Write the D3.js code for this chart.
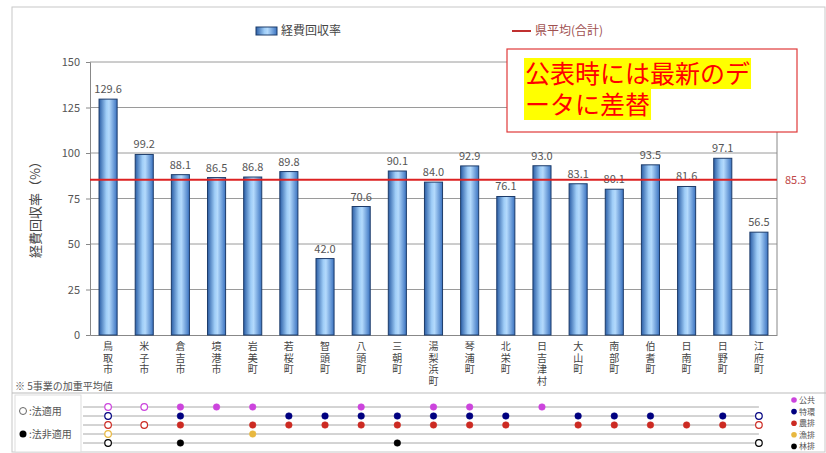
<!DOCTYPE html>
<html>
<head>
<meta charset="utf-8">
<script src="https://cdn.jsdelivr.net/npm/d3@7"></script>
<style>
  body { margin: 0; background: #fff; }
  svg { font-family: "Noto Sans CJK JP", "Noto Sans", sans-serif; }
</style>
</head>
<body>
<div id="chart"></div>
<script>
// Data
var towns = ["鳥取市", "米子市", "倉吉市", "境港市", "岩美町", "若桜町", "智頭町", "八頭町", "三朝町", "湯梨浜町",
  "琴浦町", "北栄町", "日吉津村", "大山町", "南部町", "伯耆町", "日南町", "日野町", "江府町"];
var recoveryRate = [129.6, 99.2, 88.1, 86.5, 86.8, 89.8, 42.0, 70.6, 90.1, 84.0,
  92.9, 76.1, 93.0, 83.1, 80.1, 93.5, 81.6, 97.1, 56.5];
var prefAverage = 85.3;
var yTicks = [0, 25, 50, 75, 100, 125, 150];

// o = 法適用, f = 法非適用, - = なし (one char per town)
var businessNames = ["公共", "特環", "農排", "漁排", "林排"];
var businessDots = [
  "oofff--f-ff-f------",
  "o-f--fffffff-fff-fo",
  "oof-ffffffff-fffffo",
  "o---f--------------",
  "o-f-----f---------o"
];
var businessColors = ["#cc44dd", "#000080", "#cc2a22", "#e8b840", "#000000"];

var svgWidth = 826;
var svgHeight = 453;
var plot = { left: 90, right: 777, top: 62, bottom: 335 };

var svg = d3.select("#chart")
  .append("svg")
  .attr("width", svgWidth)
  .attr("height", svgHeight);

// bar gradient
var defs = svg.append("defs");
var grad = defs.append("linearGradient")
  .attr("id", "barGrad")
  .attr("x1", "0%").attr("x2", "100%").attr("y1", "0%").attr("y2", "0%");
grad.append("stop").attr("offset", "0%").attr("stop-color", "#2b5ea6");
grad.append("stop").attr("offset", "40%").attr("stop-color", "#9fcdf7");
grad.append("stop").attr("offset", "55%").attr("stop-color", "#b4dafc");
grad.append("stop").attr("offset", "100%").attr("stop-color", "#3a72c0");

// outer frame
svg.append("rect")
  .attr("x", 12).attr("y", 7)
  .attr("width", 813).attr("height", 445)
  .attr("fill", "none")
  .attr("stroke", "#c8c8c8");

// scales
var xScale = d3.scaleBand()
  .domain(towns)
  .range([plot.left, plot.right])
  .paddingInner(0.5)
  .paddingOuter(0.25);

var yScale = d3.scaleLinear()
  .domain([0, 150])
  .range([plot.bottom, plot.top]);

// gridlines
svg.append("g")
  .selectAll("line")
  .data(yTicks.filter(d => d > 0))
  .enter()
  .append("line")
  .attr("x1", plot.left).attr("x2", plot.right)
  .attr("y1", d => yScale(d)).attr("y2", d => yScale(d))
  .attr("stroke", "#9a9a9a")
  .attr("stroke-width", 1);

// axes
var leftAxis = d3.axisLeft(yScale).tickValues(yTicks).tickSize(4).tickPadding(6);
var yAxisG = svg.append("g")
  .attr("transform", `translate(${plot.left}, 0)`)
  .call(leftAxis);
yAxisG.select(".domain").attr("stroke", "#888");
yAxisG.selectAll(".tick line").attr("stroke", "#888");
yAxisG.selectAll("text")
  .attr("fill", "#555")
  .attr("font-size", "11px")
  .attr("font-family", "Noto Sans CJK JP");

var bottomAxis = d3.axisBottom(xScale).tickSize(0).tickFormat("");
svg.append("g")
  .attr("transform", `translate(0, ${plot.bottom})`)
  .call(bottomAxis)
  .select(".domain").attr("stroke", "#888");

// right border of plot
svg.append("line")
  .attr("x1", plot.right).attr("x2", plot.right)
  .attr("y1", plot.top).attr("y2", plot.bottom)
  .attr("stroke", "#888");

// bars
svg.append("g")
  .selectAll("rect")
  .data(recoveryRate)
  .enter()
  .append("rect")
  .attr("x", (d, i) => xScale(towns[i]))
  .attr("y", d => yScale(d))
  .attr("width", xScale.bandwidth())
  .attr("height", d => yScale(0) - yScale(d))
  .attr("fill", "url(#barGrad)")
  .attr("stroke", "#1d3c6a")
  .attr("stroke-width", 1);

// value labels
svg.append("g")
  .selectAll("text")
  .data(recoveryRate)
  .enter()
  .append("text")
  .attr("x", (d, i) => xScale(towns[i]) + xScale.bandwidth() / 2)
  .attr("y", d => yScale(d) - 6)
  .attr("text-anchor", "middle")
  .attr("font-size", "11px")
  .attr("fill", "#555")
  .text(d => d.toFixed(1));

// prefecture average line
svg.append("line")
  .attr("x1", plot.left).attr("x2", plot.right)
  .attr("y1", yScale(prefAverage)).attr("y2", yScale(prefAverage))
  .attr("stroke", "#dd2222")
  .attr("stroke-width", 2);
svg.append("text")
  .attr("x", plot.right + 8)
  .attr("y", yScale(prefAverage) + 4)
  .attr("font-size", "11px")
  .attr("fill", "#c04848")
  .text(prefAverage.toFixed(1));

// x labels, one char per line
var xLabelG = svg.append("g");
towns.forEach(d => {
  var cx = xScale(d) + xScale.bandwidth() / 2;
  xLabelG.append("text")
    .attr("text-anchor", "middle")
    .attr("font-size", "10px")
    .attr("fill", "#444")
    .selectAll("tspan")
    .data(d.split(""))
    .enter()
    .append("tspan")
    .attr("x", cx)
    .attr("y", (ch, k) => 350 + k * 11.5)
    .text(ch => ch);
});

// y axis title
svg.append("text")
  .attr("transform", `translate(40, ${(plot.top + plot.bottom) / 2 + 8}) rotate(-90)`)
  .attr("text-anchor", "middle")
  .attr("font-size", "13px")
  .attr("fill", "#444")
  .text("経費回収率（%）");

// legend
svg.append("rect")
  .attr("x", 256).attr("y", 27)
  .attr("width", 21).attr("height", 8)
  .attr("fill", "url(#barGrad)")
  .attr("stroke", "#1d3c6a");
svg.append("text")
  .attr("x", 281).attr("y", 35)
  .attr("font-size", "12px")
  .attr("fill", "#444")
  .text("経費回収率");
svg.append("line")
  .attr("x1", 512).attr("x2", 531)
  .attr("y1", 31).attr("y2", 31)
  .attr("stroke", "#c03030")
  .attr("stroke-width", 2);
svg.append("text")
  .attr("x", 535).attr("y", 35)
  .attr("font-size", "12px")
  .attr("fill", "#a05050")
  .text("県平均(合計)");

// note box
svg.append("rect")
  .attr("x", 507).attr("y", 49)
  .attr("width", 290).attr("height", 83)
  .attr("fill", "#fff")
  .attr("stroke", "#e03a3a")
  .attr("stroke-width", 1.2);
var noteLines = ["公表時には最新のデ", "ータに差替"];
var noteG = svg.append("g");
noteLines.forEach((line, k) => {
  var bg = noteG.append("rect").attr("fill", "#ffff00");
  var tx = noteG.append("text")
    .attr("x", 525)
    .attr("y", 83 + k * 31)
    .attr("font-size", "25px")
    .attr("fill", "#ff0000")
    .text(line);
  var w = tx.node().getComputedTextLength();
  bg.attr("x", 524).attr("y", 58 + k * 31).attr("width", w + 2).attr("height", 31);
});

// lower matrix
svg.append("text")
  .attr("x", 15).attr("y", 390)
  .attr("font-size", "10px")
  .attr("fill", "#555")
  .text("※ 5事業の加重平均値");
svg.append("line")
  .attr("x1", 12).attr("x2", 826)
  .attr("y1", 393).attr("y2", 393)
  .attr("stroke", "#bbb");
svg.append("rect")
  .attr("x", 15).attr("y", 395)
  .attr("width", 66).attr("height", 57)
  .attr("fill", "#fff")
  .attr("stroke", "#ddd");
svg.append("circle").attr("cx", 23).attr("cy", 411).attr("r", 3.5)
  .attr("fill", "#fff").attr("stroke", "#666");
svg.append("text").attr("x", 29).attr("y", 415)
  .attr("font-size", "10px").attr("fill", "#555").text(":法適用");
svg.append("circle").attr("cx", 23).attr("cy", 434).attr("r", 3.5)
  .attr("fill", "#000");
svg.append("text").attr("x", 29).attr("y", 438)
  .attr("font-size", "10px").attr("fill", "#555").text(":法非適用");

var rowY = d3.scalePoint()
  .domain(businessNames)
  .range([407, 443]);

var rows = svg.append("g")
  .selectAll("g")
  .data(businessNames)
  .enter()
  .append("g");
rows.append("line")
  .attr("x1", 83).attr("x2", xScale(towns[towns.length - 1]) + xScale.bandwidth() / 2)
  .attr("y1", d => rowY(d)).attr("y2", d => rowY(d))
  .attr("stroke", "#a8a8a8");
rows.each(function(name, r) {
  var cells = businessDots[r].split("").map((c, i) => ({ c: c, town: towns[i] }))
    .filter(d => d.c === "o" || d.c === "f");
  d3.select(this).selectAll("circle")
    .data(cells)
    .enter()
    .append("circle")
    .attr("cx", d => xScale(d.town) + xScale.bandwidth() / 2)
    .attr("cy", rowY(name))
    .attr("r", 3.3)
    .attr("fill", d => d.c === "f" ? businessColors[r] : "#fff")
    .attr("stroke", businessColors[r])
    .attr("stroke-width", d => d.c === "o" ? 1.2 : 0.5);
});

// right legend
var legendRows = svg.append("g")
  .selectAll("g")
  .data(businessNames)
  .enter()
  .append("g")
  .attr("transform", (d, i) => `translate(794, ${400 + i * 11.6})`);
legendRows.append("circle")
  .attr("cx", 0).attr("cy", 0).attr("r", 2.8)
  .attr("fill", (d, i) => businessColors[i]);
legendRows.append("text")
  .attr("x", 5).attr("y", 3)
  .attr("font-size", "8px")
  .attr("fill", "#555")
  .text(d => d);
</script>
</body>
</html>
